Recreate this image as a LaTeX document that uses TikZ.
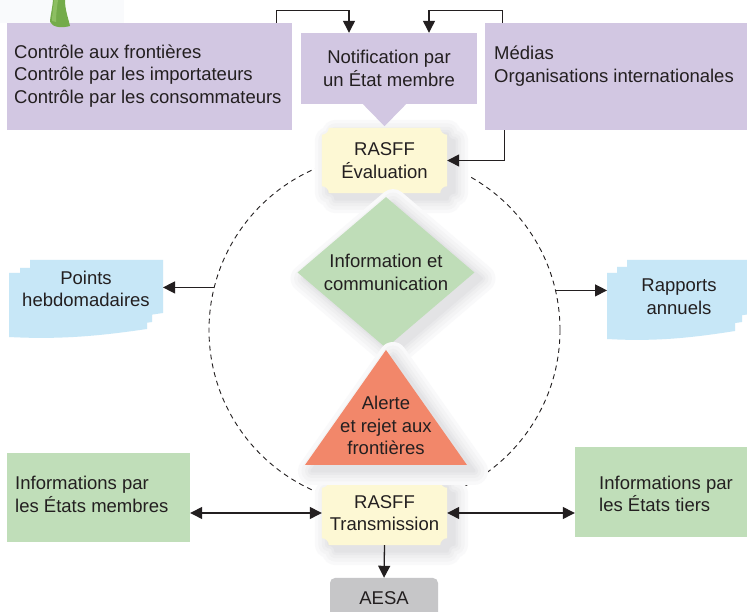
\documentclass[tikz,border=0pt]{standalone}
\usepackage{fontspec}
\setmainfont{Liberation Sans}
\usetikzlibrary{arrows.meta,calc,shapes.geometric,backgrounds}

\definecolor{ink}{HTML}{231F20}
\definecolor{lilacfill}{HTML}{D2C7E2}
\definecolor{ticketfill}{HTML}{FDF8D4}
\definecolor{diamondfill}{HTML}{BFDDB8}
\definecolor{leaffill}{HTML}{C0DEB9}
\definecolor{alertfill}{HTML}{F2876A}
\definecolor{docfill}{HTML}{C7E7F7}
\definecolor{aesafill}{HTML}{C6C6C8}
\definecolor{stemfill}{HTML}{74AB4A}
\definecolor{stemlight}{HTML}{8DBE62}
\definecolor{haze}{HTML}{F9FAFC}
\definecolor{shadeA}{HTML}{F9F9FA}
\definecolor{shadeB}{HTML}{F4F4F5}
\definecolor{shadeC}{HTML}{EFEFF0}
\definecolor{shadeD}{HTML}{E9E9EB}
\definecolor{shadeE}{HTML}{E3E3E5}

\tikzset{
  every node/.style={font=\fontsize{18.5pt}{22.5pt}\selectfont, text=ink},
  lilac/.style={fill=lilacfill, inner sep=0pt},
  leaf/.style={fill=leaffill, inner sep=0pt},
  plaintext/.style={align=left, inner sep=0pt, anchor=west},
  shadelayer/.style 2 args={preaction={fill=#1, draw=#1, line width=#2, line join=round,
               transform canvas={shift={(7pt,-6pt)}}}},
  softshadow/.style={shadelayer={shadeA}{28pt}, shadelayer={shadeB}{21pt},
    shadelayer={shadeC}{14pt}, shadelayer={shadeD}{8pt}, shadelayer={shadeE}{3pt}},
  link/.style={draw=ink, line width=1.3pt, -{Triangle[length=12pt,width=12pt]}},
  twoway/.style={draw=ink, line width=1.3pt,
      {Triangle[length=12pt,width=12pt]}-{Triangle[length=12pt,width=12pt]}},
  ticketnode/.style={minimum width=125pt, minimum height=65pt, inner sep=0pt, align=center},
}

% ticket-shaped fill with concave corners behind a node
\newcommand\ticketfill[1]{%
  \fill[ticketfill, softshadow]
    ([xshift=7pt]#1.north west) -- ([xshift=-7pt]#1.north east)
    arc[start angle=180, end angle=270, radius=7pt]
    -- ([yshift=7pt]#1.south east)
    arc[start angle=90, end angle=180, radius=7pt]
    -- ([xshift=7pt]#1.south west)
    arc[start angle=0, end angle=90, radius=7pt]
    -- ([yshift=-7pt]#1.north west)
    arc[start angle=270, end angle=360, radius=7pt] -- cycle;}

% one sheet of a document stack with a wavy lower edge: x1 x2 ytop ybot
\newcommand\docpage[4]{%
  \fill[docfill] (#1,#3) -- (#2,#3) -- (#2,{#4+8})
    .. controls ({#2-0.3*(#2-#1)},{#4+2}) and ({#1+0.4*(#2-#1)},{#4-3}) .. (#1,#4)
    -- cycle;}

\begin{document}
\begin{tikzpicture}[x=1pt, y=1pt]
\useasboundingbox (0,0) rectangle (747,612);

\begin{scope}[on background layer]
  \fill[white] (0,0) rectangle (747,612);
  \fill[haze] (0,589) rectangle (124,612);
  % dashed cycle
  \node[circle, draw=ink, line width=0.9pt, dash pattern=on 5pt off 4pt,
        minimum size=351pt, inner sep=0pt] (ring) at (384.5,282) {};
\end{scope}

% input sources
\node[lilac, minimum width=285pt, minimum height=107pt] (ctrl) at (149.5,535.5) {};
\node[plaintext] (ctrltext) at (14,536)
  {Contrôle aux frontières\\Contrôle par les importateurs\\Contrôle par les consommateurs};

\node[lilac, minimum width=176pt, minimum height=71pt, align=center] (notif) at (389,543.5)
  {Notification par\\un État membre};

\node[lilac, minimum width=262pt, minimum height=107pt] (media) at (616,535.5) {};
\node[plaintext] (mediatext) at (494,546) {Médias\\Organisations internationales};

% plant stem peeking out above the first box
\fill[stemfill]
  (53,612) .. controls (52,601) and (50,595) .. (50,590)
  .. controls (53,584) and (63,584) .. (70,586)
  .. controls (68,595) and (65,602) .. (65,612) -- cycle;
\fill[stemlight] (54,612) .. controls (53,602) and (52,596) .. (52,591)
  -- (56,590) .. controls (56,598) and (57,605) .. (58,612) -- cycle;

% RASFF stages
\node[ticketnode] (eval) at (384.5,451.5) {RASFF\\Évaluation};
\node[ticketnode, minimum height=64pt] (trans) at (384.5,99) {RASFF\\Transmission};

% pointer of the notification box
\fill[lilacfill] ($(notif.south -| eval.north)+(-22,0.5)$) -- ($(notif.south -| eval.north)+(22,0.5)$)
  -- ($(notif.south -| eval.north)+(0,-22)$) -- cycle;

\begin{scope}[on background layer]
  \ticketfill{eval}
  \ticketfill{trans}
\end{scope}

% centre of the cycle
\node[diamond, aspect=1.2, minimum width=177pt, minimum height=151pt, inner sep=0pt,
      fill=diamondfill, softshadow, align=center] (info) at (386,339.5)
  {Information et\\communication};

\fill[alertfill, softshadow] (386,262) -- (467,147) -- (305,147) -- cycle;
\node[align=center, inner sep=0pt] (alert) at (386,186.5) {Alerte\\et rejet aux\\frontières};

% weekly and annual reports
\docpage{30}{163}{352}{291}
\docpage{20}{152}{344}{282}
\docpage{9}{147}{339}{275}
\node[align=center, inner sep=0pt] (weekly) at (86,323) {Points\\hebdomadaires};
\coordinate (weeklyedge) at (163,323);

\docpage{627}{757}{352}{291}
\docpage{617}{742}{345}{282}
\docpage{607}{735}{339}{273}
\node[align=center, inner sep=0pt] (annual) at (679,315.5) {Rapports\\annuels};
\coordinate (annualedge) at (607,323);

% exchange partners
\node[leaf, minimum width=183pt, minimum height=89pt] (members) at (98.5,114.5) {};
\node[plaintext] (memberstext) at (15,117.5) {Informations par\\les États membres};

\node[leaf, minimum width=172pt, minimum height=90pt] (third) at (661,120) {};
\node[plaintext] (thirdtext) at (599,118) {Informations par\\les États tiers};

\node[fill=aesafill, rounded corners=5pt, minimum width=108pt, minimum height=40pt,
      inner sep=0pt] (aesa) at (384,14) {AESA};

% connectors
\draw[link] ([xshift=-16pt]ctrl.north east) -- ++(0,12) -| ([xshift=-40pt]notif.north);
\draw[link] ([xshift=18pt]media.north west) -- ++(0,12) -| ([xshift=40pt]notif.north);
\draw[link] ([xshift=20pt]media.south west) |- (eval.east);
\draw[link] (ring.166.5) -- (ring.166.5 -| weeklyedge);
\draw[link] (ring.13.5) -- (ring.13.5 -| annualedge);
\draw[twoway] (members.east |- trans.west) -- (trans.west);
\draw[twoway] (trans.east) -- (third.west |- trans.east);
\draw[link] (trans.south) -- (aesa.north);
\end{tikzpicture}
\end{document}
